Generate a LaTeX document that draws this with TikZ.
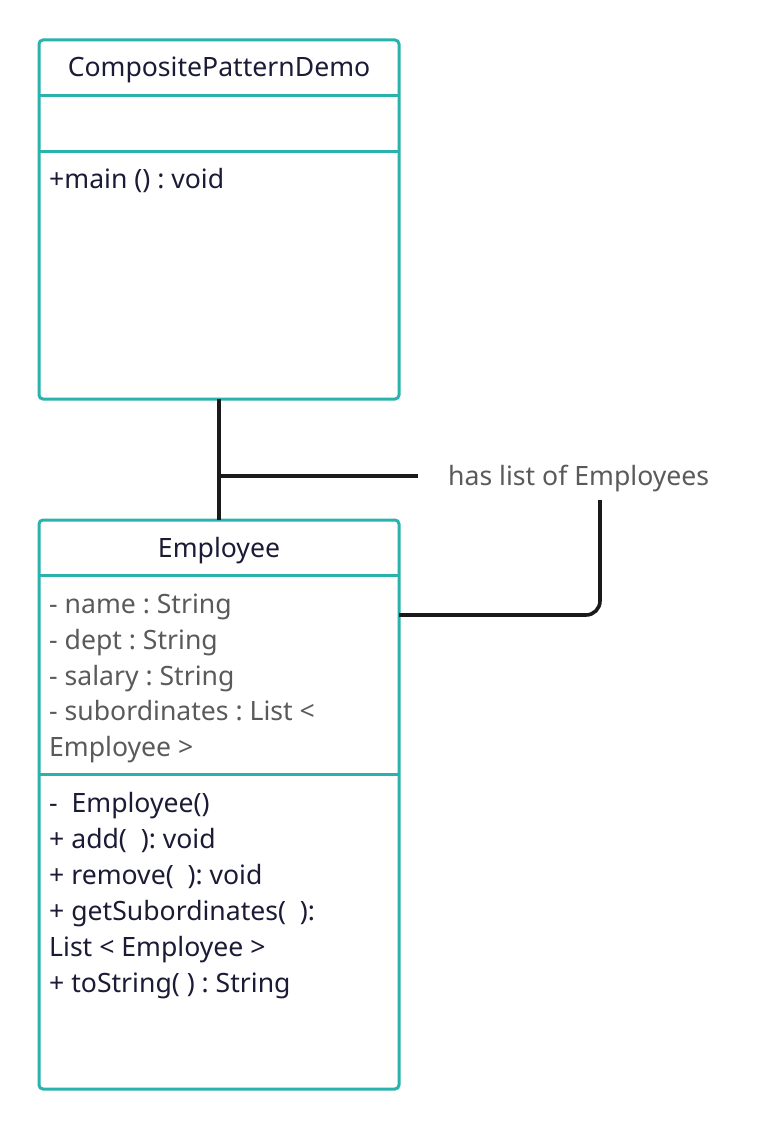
\documentclass[tikz,border=0pt]{standalone}
\usepackage{fontspec}
\setmainfont{Noto Sans}
\frenchspacing
\definecolor{teal1}{RGB}{42,178,172}
\definecolor{ink}{RGB}{28,27,54}
\definecolor{graytxt}{RGB}{90,90,90}
\definecolor{linec}{RGB}{26,26,26}
\begin{document}
\begin{tikzpicture}[x=1pt,y=-1pt,
  umlbox/.style={draw=teal1,line width=3pt,rounded corners=4pt,inner sep=0pt,outer sep=0pt,fill=white},
  divider/.style={draw=teal1,line width=3pt},
  txt/.style={anchor=base west,inner sep=0pt,font=\fontsize{26.6}{30}\selectfont\frenchspacing,text=ink},
  attr/.style={txt,text=graytxt},
  title/.style={anchor=base,inner sep=0pt,font=\fontsize{26.6}{30}\selectfont,text=ink},
  conn/.style={draw=linec,line width=3.6pt}]
\useasboundingbox (0,0) rectangle (770,1131);
% Box 1
\node[umlbox,minimum width=360pt,minimum height=359pt] (demo) at (219,219.5) {};
\draw[divider] (39,96) -- (399,96);
\draw[divider] (39,152) -- (399,152);
\node[title] (demotitle) at (219,77) {CompositePatternDemo};
\node[txt] (demomain) at (49,189) {+main () : void};
% Box 2
\node[umlbox,minimum width=360pt,minimum height=569pt] (emp) at (219,804.5) {};
\draw[divider] (39,575) -- (399,575);
\draw[divider] (39,774) -- (399,774);
\node[title] (emptitle) at (219,557) {Employee};
\node[attr] (a1) at (49,613) {- name : String};
\node[attr] (a2) at (49,649) {- dept : String};
\node[attr] (a3) at (49,685) {- salary : String};
\node[attr] (a4) at (49,720) {- subordinates : List <};
\node[attr] (a5) at (49,756) {Employee >};
\node[txt] (m1) at (49,812) {-\ \ Employee()};
\node[txt] (m2) at (49,848) {+ add(\ \ ): void};
\node[txt] (m3) at (49,884) {+ remove(\ \ ): void};
\node[txt] (m4) at (49,920) {+ getSubordinates(\ \ ):};
\node[txt] (m5) at (49,956) {List < Employee >};
\node[txt] (m6) at (49,992) {+ toString( ) : String};
% label
\node[anchor=base west,inner sep=0pt,font=\fontsize{26.6}{30}\selectfont,text=graytxt] (lbl) at (448,485) {has list of Employees};
% connectors
\draw[conn] (demo.south) -- (emp.north);
\coordinate (junc) at (217,476);
\coordinate (lblend) at (418,476);
\draw[conn] (junc) -- (lblend);
\coordinate (empside) at (399,615);
\coordinate (lblbot) at (600,500);
\draw[conn,rounded corners=14pt] (empside) -- (600,615) -- (lblbot);
\end{tikzpicture}
\end{document}
